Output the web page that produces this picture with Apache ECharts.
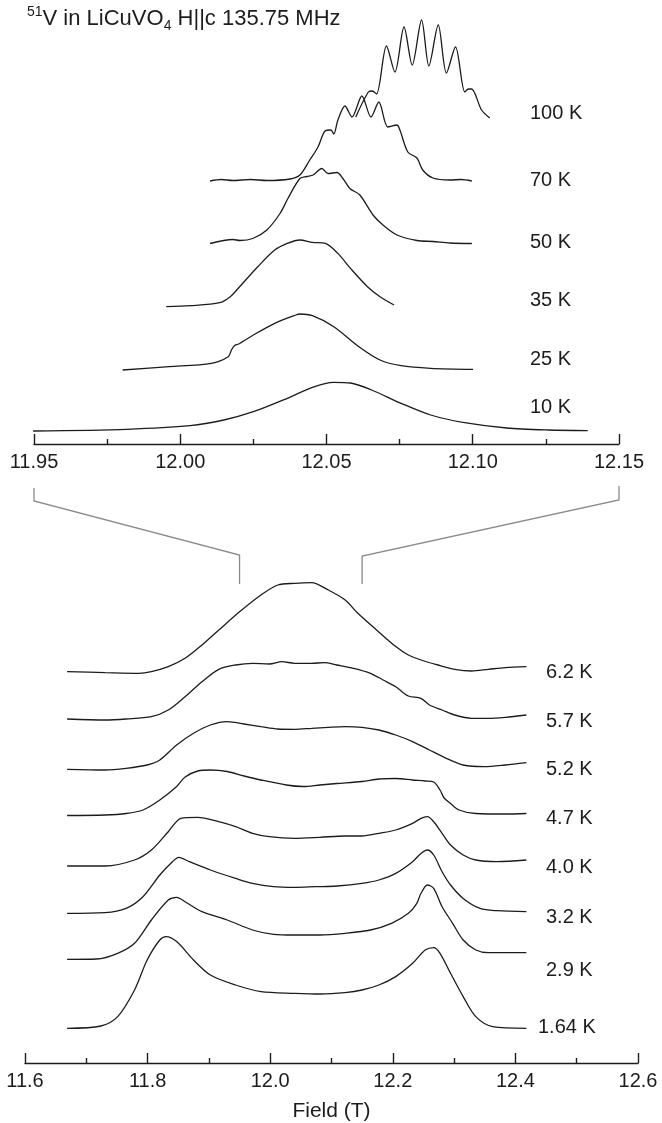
<!DOCTYPE html>
<html>
<head>
<meta charset="utf-8">
<script src="https://cdn.jsdelivr.net/npm/echarts@6/dist/echarts.min.js"></script>
<style>
html, body { margin: 0; padding: 0; background: #fff; }
#main { width: 662px; height: 1123px; }
</style>
</head>
<body>
<div id="main"></div>
<script>
// 51V NMR spectra, LiCuVO4, H || c, 135.75 MHz
// each trace is [field (T), intensity (a.u.)]; offsets stack the traces vertically

// upper panel, 11.95 - 12.15 T
const topLabels = ['100 K', '70 K', '50 K', '35 K', '25 K', '10 K'];
const topOffsets = [324, 263, 200.5, 137.3, 74, 13];

const t100 = [[12.0600, 3], [12.0643, 28], [12.0657, 29], [12.0671, 26], [12.0705, 74], [12.0734, 48],
  [12.0765, 93], [12.0793, 55], [12.0825, 100], [12.0850, 54], [12.0882, 95], [12.0910, 47],
  [12.0941, 73], [12.0973, 28], [12.0985, 31], [12.0996, 31], [12.1030, 10], [12.1058, 2]];
const t70 = [[12.0102, 0], [12.0140, 1.5], [12.0180, 0.5], [12.0240, 1.5], [12.0296, 0.5], [12.0375, 2],
  [12.0409, 6], [12.0443, 21], [12.0471, 34], [12.0495, 50], [12.0515, 51], [12.0525, 47], [12.0539, 61],
  [12.0563, 75], [12.0587, 64], [12.0621, 85], [12.0652, 64], [12.0679, 79], [12.0710, 54], [12.0741, 56],
  [12.0751, 51], [12.0778, 29], [12.0809, 23], [12.0829, 11], [12.0864, 3], [12.0922, 1], [12.0960, 1.5], [12.0997, 0]];
const t50 = [[12.0102, 0], [12.0180, 4], [12.0204, 3], [12.0248, 5], [12.0296, 13.5], [12.0341, 30],
  [12.0368, 45], [12.0409, 65], [12.0433, 67], [12.0454, 68.5], [12.0484, 75], [12.0505, 70], [12.0536, 71],
  [12.0556, 65], [12.0580, 55], [12.0614, 48.5], [12.0659, 28.5], [12.0693, 18.5], [12.0741, 8.5],
  [12.0809, 3], [12.0864, 2], [12.0922, 0.5], [12.0997, 0]];
const t35 = [[11.9952, 0], [12.0034, 1], [12.0135, 4], [12.0171, 10], [12.0193, 16.7], [12.0265, 40],
  [12.0323, 56.7], [12.0366, 63.3], [12.0409, 66.7], [12.0452, 64.3], [12.0496, 63.3], [12.0539, 53.3],
  [12.0582, 38.3], [12.0640, 20], [12.0683, 10], [12.0731, 1.7]];
const t25 = [[11.9803, 0], [11.9962, 3.3], [12.0106, 6.7], [12.0164, 13.3], [12.0175, 20], [12.0185, 24.3],
  [12.0200, 26], [12.0250, 35], [12.0323, 46.7], [12.0395, 55], [12.0409, 56], [12.0452, 54.3],
  [12.0525, 43.3], [12.0611, 23.3], [12.0683, 10], [12.0755, 4.3], [12.0856, 1.7], [12.1001, 0.7]];
const t10 = [[11.9497, 0], [11.9817, 1.7], [12.0034, 5.3], [12.0149, 11], [12.0250, 19.3], [12.0366, 32.7],
  [12.0452, 43.7], [12.0524, 48.7], [12.0582, 48], [12.0654, 41], [12.0755, 27.7], [12.0856, 16],
  [12.0972, 8.3], [12.1116, 3], [12.1260, 1], [12.1393, 0.3]];
const topTraces = [t100, t70, t50, t35, t25, t10];

// lower panel, 11.6 - 12.6 T
const botLabels = ['6.2 K', '5.7 K', '5.2 K', '4.7 K', '4.0 K', '3.2 K', '2.9 K', '1.64 K'];
const botOffsets = [390.7, 344, 293.7, 247.5, 197, 150.3, 104, 34.7];

const b62 = [[11.6687, 0.7], [11.7306, -0.3], [11.7856, -1], [11.8062, 0.7], [11.8337, 5.7], [11.8612, 14],
  [11.8887, 27.3], [11.9162, 42.3], [11.9505, 60.7], [11.9849, 77.3], [12.0124, 87.3], [12.0399, 89],
  [12.0674, 89.7], [12.0948, 82.3], [12.1223, 72.3], [12.1430, 59], [12.1704, 44], [12.2048, 25.7],
  [12.2254, 17.3], [12.2460, 12.3], [12.2735, 7.3], [12.3010, 3], [12.3285, 1.3], [12.3560, 3],
  [12.3835, 4.7], [12.4179, 5.7]];
const b57 = [[11.6687, 0], [11.7306, -1], [11.7649, 0], [11.8062, 2.3], [11.8337, 9], [11.8612, 22.3],
  [11.8887, 37.3], [11.9162, 49.7], [11.9436, 54], [11.9711, 55.7], [11.9986, 55], [12.0192, 57.3],
  [12.0399, 55.7], [12.0674, 55.7], [12.0880, 56.3], [12.1086, 54], [12.1361, 50.7], [12.1636, 45.7],
  [12.1842, 39], [12.2048, 32.3], [12.2254, 23], [12.2460, 20.7], [12.2598, 14], [12.2804, 9],
  [12.3010, 4], [12.3285, 0.7], [12.3560, 0.7], [12.3835, 1.7], [12.4179, 4]];
const b52 = [[11.6687, 0], [11.7306, -0.7], [11.7649, 1], [11.7993, 4.3], [11.8199, 9.3], [11.8474, 24.3],
  [11.8749, 36], [11.9024, 44.3], [11.9299, 47.7], [11.9574, 45.3], [11.9849, 42.7], [12.0124, 40.3],
  [12.0399, 40], [12.0674, 41], [12.0948, 42], [12.1223, 42.7], [12.1498, 42], [12.1773, 39.3],
  [12.2048, 34.3], [12.2323, 27.7], [12.2598, 19.3], [12.2873, 11], [12.3148, 4.3], [12.3491, 2.7],
  [12.3835, 4.3], [12.4179, 6.7]];
const b47 = [[11.6687, 0], [11.7306, 0.5], [11.7649, 2], [11.7924, 5.5], [11.8199, 15.5], [11.8474, 29],
  [11.8612, 38.5], [11.8818, 44.5], [11.9024, 45.5], [11.9299, 44], [11.9574, 39.5], [11.9849, 35.5],
  [12.0261, 30.5], [12.0536, 29], [12.0811, 30.5], [12.1086, 32], [12.1498, 34], [12.1773, 36.5],
  [12.2048, 37], [12.2323, 35.5], [12.2529, 34.5], [12.2667, 33.5], [12.2770, 25.5], [12.2838, 17.5],
  [12.2942, 12], [12.3079, 5.5], [12.3354, 2], [12.3835, 1.5], [12.4179, 2]];
const b40 = [[11.6687, 0], [11.7306, 0], [11.7787, 6], [11.8062, 16], [11.8337, 34.3], [11.8543, 47.7],
  [11.8818, 48.7], [11.9162, 44.3], [11.9436, 39.3], [11.9711, 32.7], [11.9986, 29.3], [12.0399, 27.7],
  [12.0811, 28.7], [12.1223, 30], [12.1498, 30], [12.1773, 32.7], [12.2048, 36], [12.2323, 42.7],
  [12.2460, 47.7], [12.2564, 49.3], [12.2667, 44.3], [12.2804, 32.7], [12.2942, 21], [12.3148, 11],
  [12.3354, 6], [12.3698, 4.3], [12.4179, 6]];
const b32 = [[11.6687, -0.7], [11.7306, 0], [11.7649, 4.3], [11.7924, 16], [11.8199, 37.7], [11.8405, 51],
  [11.8509, 55.3], [11.8680, 51], [11.9024, 42.7], [11.9436, 34.3], [11.9711, 29.3], [12.0055, 26],
  [12.0399, 25.3], [12.0742, 26], [12.1086, 26.7], [12.1498, 29.3], [12.1773, 32.7], [12.2048, 39.3],
  [12.2323, 51], [12.2460, 59.3], [12.2564, 62.7], [12.2667, 57.7], [12.2804, 41], [12.2942, 27.7],
  [12.3148, 14.3], [12.3423, 4.3], [12.3698, 2], [12.4179, 1]];
const b29 = [[11.6687, -0.3], [11.7168, 0], [11.7512, 5.7], [11.7787, 15.7], [11.8062, 39], [11.8337, 59],
  [11.8474, 61.7], [11.8612, 57.3], [11.8887, 47.3], [11.9299, 39], [11.9711, 29], [12.0055, 24.7],
  [12.0399, 24], [12.0811, 24], [12.1223, 25.7], [12.1636, 29], [12.1979, 35.7], [12.2254, 45.7],
  [12.2392, 55.7], [12.2460, 65.7], [12.2564, 74], [12.2667, 70.7], [12.2804, 52.3], [12.2976, 35.7],
  [12.3148, 19], [12.3354, 9], [12.3560, 6.3], [12.4179, 6.3]];
const b164 = [[11.6687, 0], [11.7237, 2.3], [11.7512, 11.7], [11.7787, 38.3], [11.7993, 68.3], [11.8199, 88.3],
  [11.8302, 91.7], [11.8474, 86.7], [11.8749, 68.3], [11.9024, 53.3], [11.9436, 43.3], [11.9849, 36.7],
  [12.0399, 35], [12.0811, 34.3], [12.1223, 35.7], [12.1498, 38.3], [12.1773, 43.3], [12.2048, 51.7],
  [12.2323, 65], [12.2529, 78.3], [12.2667, 80.7], [12.2770, 75], [12.2942, 55], [12.3148, 31.7],
  [12.3354, 11.7], [12.3629, 1.7], [12.4179, 0]];
const botTraces = [b62, b57, b52, b47, b40, b32, b29, b164];

const ink = '#1c1c1c';
const font = 'Liberation Sans, Arial, sans-serif';

function shift(trace, off) {
  return trace.map(p => [p[0], p[1] + off]);
}

function axisStyle(min, max, interval, digits) {
  return {
    type: 'value',
    min: min,
    max: max,
    interval: interval,
    axisLine: { lineStyle: { color: ink, width: 1.4 } },
    axisTick: { inside: true, length: 10, lineStyle: { color: ink, width: 1.4 } },
    minorTick: { show: true, splitNumber: 2, length: 5, lineStyle: { color: ink, width: 1.4 } },
    splitLine: { show: false },
    minorSplitLine: { show: false },
    axisLabel: {
      formatter: v => v.toFixed(digits),
      color: ink, fontSize: 20, fontFamily: font, margin: 8
    }
  };
}

const series = [];
topTraces.forEach((t, i) => {
  series.push({
    type: 'line', xAxisIndex: 0, yAxisIndex: 0, name: topLabels[i],
    data: shift(t, topOffsets[i]), symbol: 'none', smooth: 0.3,
    lineStyle: { color: ink, width: 1.3 }, silent: true
  });
});
botTraces.forEach((t, i) => {
  series.push({
    type: 'line', xAxisIndex: 1, yAxisIndex: 1, name: botLabels[i],
    data: shift(t, botOffsets[i]), symbol: 'none', smooth: 0.3,
    lineStyle: { color: ink, width: 1.3 }, silent: true
  });
});

const topX = axisStyle(11.95, 12.15, 0.05, 2);
topX.gridIndex = 0;
const botX = axisStyle(11.6, 12.6, 0.2, 1);
botX.gridIndex = 1;
botX.name = 'Field (T)';
botX.nameLocation = 'middle';
botX.nameGap = 38;
botX.nameTextStyle = { color: ink, fontSize: 21, fontFamily: font };

const chart = echarts.init(document.getElementById('main'));
chart.setOption({
  animation: false,
  backgroundColor: '#fff',
  grid: [
    { left: 34, right: 43, top: 4, height: 440 },
    { left: 25, right: 24, top: 563, height: 500 }
  ],
  xAxis: [topX, botX],
  yAxis: [
    { type: 'value', gridIndex: 0, min: 0, max: 440, show: false },
    { type: 'value', gridIndex: 1, min: 0, max: 500, show: false }
  ],
  series: series
});

// zoom connectors from the ends of the upper axis to the same fields on the lower axis
const xa = chart.convertToPixel({ xAxisIndex: 0 }, 11.95);
const xb = chart.convertToPixel({ xAxisIndex: 0 }, 12.15);
const xc = chart.convertToPixel({ xAxisIndex: 1 }, 11.95);
const xd = chart.convertToPixel({ xAxisIndex: 1 }, 12.15);
const grey = '#8a8a8a';

const labelPos = {
  top: [113, 180, 242, 300, 359, 407],
  bot: [672, 721, 769, 818, 867, 917, 970, 1027]
};

const graphic = [
  { type: 'polyline', shape: { points: [[xa, 488], [xa, 501], [xc, 555], [xc, 584]] }, style: { stroke: grey, lineWidth: 1.3, fill: null } },
  { type: 'polyline', shape: { points: [[xb, 486], [xb, 500], [xd, 556], [xd, 584]] }, style: { stroke: grey, lineWidth: 1.3, fill: null } },
  {
    type: 'text', x: 27, y: 5,
    style: {
      text: '{sup|51}{n|V in LiCuVO}{sub|4}{n| H||c 135.75 MHz}',
      fill: ink, font: '22px ' + font,
      rich: {
        n: { fontSize: 22, lineHeight: 28, fontFamily: font, fill: ink },
        sup: { fontSize: 14, lineHeight: 13, verticalAlign: 'top', fontFamily: font, fill: ink },
        sub: { fontSize: 14, lineHeight: 13, verticalAlign: 'bottom', fontFamily: font, fill: ink }
      }
    }
  }
];
topLabels.forEach((t, i) => {
  graphic.push({ type: 'text', x: 530, y: labelPos.top[i],
    style: { text: t, fill: ink, font: '20px ' + font, verticalAlign: 'middle' } });
});
botLabels.forEach((t, i) => {
  graphic.push({ type: 'text', x: i === 7 ? 538 : 546, y: labelPos.bot[i],
    style: { text: t, fill: ink, font: '20px ' + font, verticalAlign: 'middle' } });
});
chart.setOption({ graphic: graphic });
</script>
</body>
</html>
